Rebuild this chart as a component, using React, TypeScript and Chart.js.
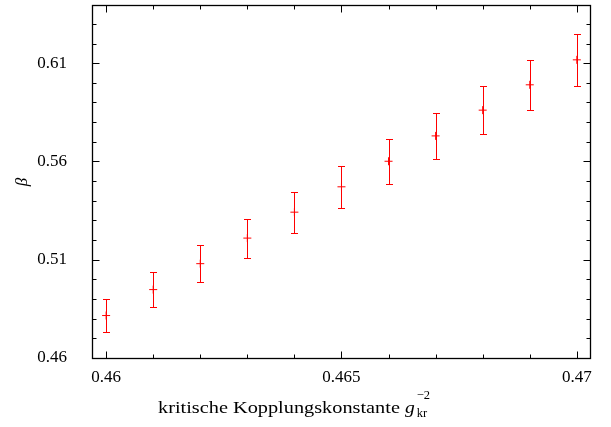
import React, { useEffect, useRef } from "react";
import { Chart, registerables } from "chart.js";

Chart.register(...registerables);

// Data
const couplings = [0.46, 0.461, 0.462, 0.463, 0.464, 0.465, 0.466, 0.467, 0.468, 0.469, 0.47];
const betaValues = [0.4816, 0.4948, 0.508, 0.521, 0.5342, 0.5471, 0.5601, 0.573, 0.5861, 0.599, 0.6117];
const betaErrors = [0.0086, 0.009, 0.0095, 0.0099, 0.0104, 0.0106, 0.0114, 0.0117, 0.0122, 0.0127, 0.0132];

// Ticks
const xMajorTicks = [0.46, 0.465, 0.47];
const xMinorTicks = [0.46, 0.461, 0.462, 0.463, 0.464, 0.465, 0.466, 0.467, 0.468, 0.469, 0.47];
const yMajorTicks = [0.46, 0.51, 0.56, 0.61];
const yMinorTicks = [0.46, 0.47, 0.48, 0.49, 0.5, 0.51, 0.52, 0.53, 0.54, 0.55, 0.56, 0.57, 0.58, 0.59, 0.6, 0.61, 0.62, 0.63];

const xLabelMain = "kritische Kopplungskonstante ";
const xLabelVar = "g";
const xLabelSup = "−2";
const xLabelSub = "kr";
const yLabel = "β";

const FONT = "'Liberation Serif', 'DejaVu Serif', serif";
const RED = "rgb(255,0,0)";

const isMajor = (v: number, majors: number[]) => majors.some((m) => Math.abs(m - v) < 1e-9);

const decoPlugin = {
  id: "deco",
  afterDatasetsDraw(chart: any) {
    const ctx = chart.ctx as CanvasRenderingContext2D;
    const xs = chart.scales.x;
    const ys = chart.scales.y;
    const a = chart.chartArea;
    ctx.save();
    // error bars
    ctx.strokeStyle = RED;
    ctx.lineWidth = 1;
    const cap = 3.5;
    for (let i = 0; i < couplings.length; i++) {
      const px = Math.round(xs.getPixelForValue(couplings[i])) + 0.5;
      const yt = Math.round(ys.getPixelForValue(betaValues[i] + betaErrors[i])) + 0.5;
      const yb = Math.round(ys.getPixelForValue(betaValues[i] - betaErrors[i])) + 0.5;
      ctx.beginPath();
      ctx.moveTo(px, yt);
      ctx.lineTo(px, yb);
      ctx.moveTo(px - cap, yt);
      ctx.lineTo(px + cap, yt);
      ctx.moveTo(px - cap, yb);
      ctx.lineTo(px + cap, yb);
      ctx.stroke();
    }
    // frame
    ctx.strokeStyle = "#000";
    ctx.lineWidth = 1.3;
    const L = Math.round(a.left) + 0.5;
    const R = Math.round(a.right) + 0.5;
    const T = Math.round(a.top) + 0.5;
    const B = Math.round(a.bottom) + 0.5;
    ctx.strokeRect(L, T, R - L, B - T);
    // ticks
    ctx.lineWidth = 1;
    ctx.beginPath();
    for (const v of xMinorTicks) {
      const len = isMajor(v, xMajorTicks) ? 7 : 4;
      const px = Math.round(xs.getPixelForValue(v)) + 0.5;
      ctx.moveTo(px, B);
      ctx.lineTo(px, B - len);
      ctx.moveTo(px, T);
      ctx.lineTo(px, T + len);
    }
    for (const v of yMinorTicks) {
      const len = isMajor(v, yMajorTicks) ? 7 : 4;
      const py = Math.round(ys.getPixelForValue(v)) + 0.5;
      ctx.moveTo(L, py);
      ctx.lineTo(L + len, py);
      ctx.moveTo(R, py);
      ctx.lineTo(R - len, py);
    }
    ctx.stroke();

    // x axis title
    ctx.fillStyle = "#000";
    ctx.textBaseline = "alphabetic";
    ctx.textAlign = "left";
    const mainFont = "17px " + FONT;
    const varFont = "italic 17px " + FONT;
    const smallFont = "12.5px " + FONT;
    const base = 413;
    const startX = 158;
    const mainTarget = 247;
    ctx.font = mainFont;
    const w1 = ctx.measureText(xLabelMain).width;
    const sx = mainTarget / w1;
    ctx.save();
    ctx.translate(startX, base);
    ctx.scale(sx, 1);
    ctx.fillText(xLabelMain, 0, 0);
    ctx.restore();
    let x0 = startX + mainTarget;
    ctx.font = varFont;
    const w2 = ctx.measureText(xLabelVar).width;
    ctx.save();
    ctx.translate(x0, base);
    ctx.scale(1.15, 1);
    ctx.fillText(xLabelVar, 0, 0);
    ctx.restore();
    x0 += w2 * 1.15 + 2;
    ctx.font = smallFont;
    ctx.fillText(xLabelSup, x0, base - 14);
    ctx.fillText(xLabelSub, x0, base + 4);

    // y axis title
    ctx.save();
    ctx.translate(27, 182);
    ctx.rotate(-Math.PI / 2);
    ctx.font = "italic 17px " + FONT;
    ctx.textAlign = "center";
    ctx.textBaseline = "alphabetic";
    ctx.fillText(yLabel, 0, 0);
    ctx.restore();

    ctx.restore();
  },
};

export default function App() {
  const ref = useRef<HTMLCanvasElement | null>(null);
  useEffect(() => {
    document.body.style.margin = "0";
    const canvas = ref.current!;
    const chart = new Chart(canvas, {
      type: "scatter",
      data: {
        datasets: [
          {
            data: couplings.map((x, i) => ({ x, y: betaValues[i] })),
            pointStyle: "cross",
            pointRadius: 4,
            pointHoverRadius: 4,
            borderColor: RED,
            backgroundColor: RED,
            pointBorderWidth: 1,
            showLine: false,
          },
        ],
      },
      options: {
        responsive: false,
        animation: false,
        events: [],
        layout: { padding: { left: 0, top: 4, right: 21, bottom: 0 } },
        plugins: { legend: { display: false }, tooltip: { enabled: false } },
        scales: {
          x: {
            type: "linear",
            min: 0.4597,
            max: 0.47028,
            grid: { display: false, drawTicks: false },
            border: { display: false },
            afterBuildTicks: (scale: any) => {
              scale.ticks = xMinorTicks.map((v) => ({ value: v }));
            },
            afterFit: (scale: any) => {
              scale.height = 69;
              scale.paddingLeft = 0;
              scale.paddingRight = 0;
            },
            ticks: {
              autoSkip: false,
              maxRotation: 0,
              padding: 9,
              color: "#000",
              font: { family: FONT, size: 17 },
              callback: (v: any) => (isMajor(Number(v), xMajorTicks) ? String(Number(v)) : ""),
            },
          },
          y: {
            type: "linear",
            min: 0.46,
            max: 0.6396,
            grid: { display: false, drawTicks: false },
            border: { display: false },
            afterBuildTicks: (scale: any) => {
              scale.ticks = yMinorTicks.map((v) => ({ value: v }));
            },
            afterFit: (scale: any) => {
              scale.width = 92;
              scale.paddingTop = 0;
              scale.paddingBottom = 0;
            },
            ticks: {
              autoSkip: false,
              padding: 25,
              color: "#000",
              font: { family: FONT, size: 17 },
              callback: (v: any) => (isMajor(Number(v), yMajorTicks) ? String(Number(v)) : ""),
            },
          },
        },
      },
      plugins: [decoPlugin],
    } as any);
    return () => chart.destroy();
  }, []);
  return <canvas ref={ref} width={611} height={427} style={{ display: "block" }} />;
}
